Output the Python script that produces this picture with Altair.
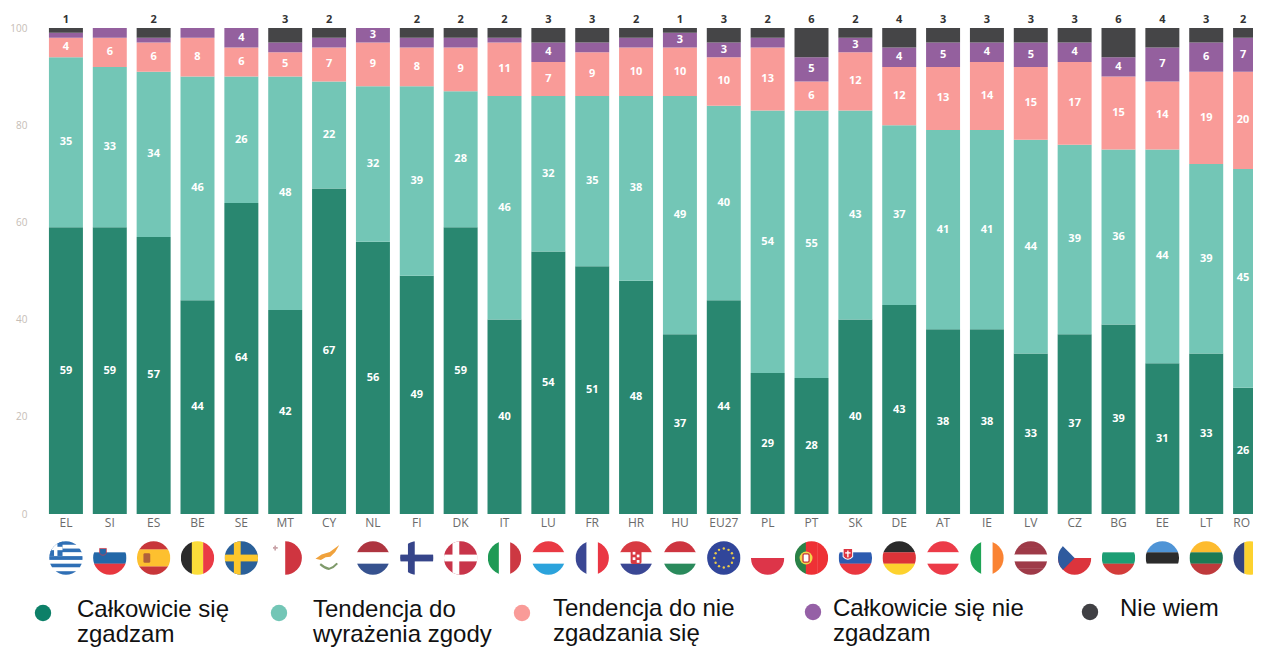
import urllib.parse
import altair as alt
import pandas as pd

countries = ["EL","SI","ES","BE","SE","MT","CY","NL","FI","DK","IT","LU","FR","HR","HU","EU27","PL","PT","SK","DE","AT","IE","LV","CZ","BG","EE","LT","RO"]
agree = [59,59,57,44,64,42,67,56,49,59,40,54,51,48,37,44,29,28,40,43,38,38,33,37,39,31,33,26]
tend_agree = [35,33,34,46,26,48,22,32,39,28,46,32,35,38,49,40,54,55,43,37,41,41,44,39,36,44,39,45]
tend_dis = [4,6,6,8,6,5,7,9,8,9,11,7,9,10,10,10,13,6,12,12,13,14,15,17,15,14,19,20]
disagree = [1,2,1,2,4,2,2,3,2,2,1,4,2,2,3,3,2,5,3,4,5,4,5,4,4,7,6,7]
dont_know = [1,0,2,0,0,3,2,0,2,2,2,3,3,2,1,3,2,6,2,4,3,3,3,3,6,4,3,2]
series_names = ["Całkowicie się zgadzam","Tendencja do wyrażenia zgody","Tendencja do nie zgadzania się","Całkowicie się nie zgadzam","Nie wiem"]
series_values = [agree,tend_agree,tend_dis,disagree,dont_know]
colors = ["#298770","#73c6b6","#f99b98","#94609e","#454547"]
legend_colors = ["#0d8068","#73c6b6","#f99b98","#9560a6","#404044"]

def hs(*c):
    h = 100/len(c)
    return "".join(f'<rect x="0" y="{i*h}" width="100" height="{h+.5}" fill="{k}"/>' for i,k in enumerate(c))
def vs(*c):
    w = 100/len(c)
    return "".join(f'<rect x="{i*w}" y="0" width="{w+.5}" height="100" fill="{k}"/>' for i,k in enumerate(c))
def cross(bg, fg, cx=36):
    return f'<rect width="100" height="100" fill="{bg}"/><rect x="{cx-10}" width="20" height="100" fill="{fg}"/><rect y="40" width="100" height="20" fill="{fg}"/>'
stars = "".join(f'<circle cx="{x}" cy="{y}" r="3.5" fill="#e9c94a"/>' for x,y in [(50,22),(64,26),(74,36),(78,50),(74,64),(64,74),(50,78),(36,74),(26,64),(22,50),(26,36),(36,26)])
W = "#ffffff"
flags = {
 "EL": hs("#2f6fb5",W,"#2f6fb5",W,"#2f6fb5",W,"#2f6fb5",W,"#2f6fb5") + '<rect width="40" height="44" fill="#2f6fb5"/><rect x="15" width="10" height="44" fill="#fff"/><rect y="17" width="40" height="10" fill="#fff"/>',
 "SI": hs(W,"#2368a8","#e8373f") + '<path d="M20 22h20v14q-10 12-20 0z" fill="#2368a8" stroke="#e8373f" stroke-width="2"/>',
 "ES": hs("#c8363a","#fdc02f","#fdc02f","#c8363a") + '<rect x="20" y="36" width="20" height="28" rx="4" fill="#b0603a"/>',
 "BE": vs("#2b2b2b","#fbdd3a","#ea3a45"),
 "SE": cross("#2a6099","#fcc72c",cx=38),
 "MT": vs(W,"#cf3540") + '<path d="M14 18h4v-5h5v5h5v5h-5v5h-5v-5h-4z" fill="#c9a3a8"/>',
 "CY": '<rect width="100" height="100" fill="#fff"/><path d="M10 52l18-12 24-8 28-20-12 20-14 14-14 2-14 8z" fill="#f0a23c"/><path d="M24 68q14 12 26 14 14-4 24-16" fill="none" stroke="#7f9a6b" stroke-width="6"/>',
 "NL": hs("#ae3540",W,"#36528f"),
 "FI": cross(W,"#36458a",cx=34),
 "DK": cross("#c8354a",W,cx=36),
 "IT": vs("#1f9a55",W,"#cd3842"),
 "LU": hs("#e93a44",W,"#2ba3dc"),
 "FR": vs("#3a4794",W,"#ea3744"),
 "HR": hs("#d83a42",W,"#3a4794") + '<rect x="34" y="26" width="32" height="42" rx="6" fill="#d83a42"/><rect x="40" y="32" width="8" height="8" fill="#fff"/><rect x="52" y="40" width="8" height="8" fill="#fff"/><rect x="40" y="48" width="8" height="8" fill="#fff"/><rect x="52" y="56" width="8" height="8" fill="#fff"/>',
 "HU": hs("#ce3540",W,"#2a8a5c"),
 "EU27": f'<rect width="100" height="100" fill="#31469a"/>{stars}',
 "PL": hs(W,"#dd3549"),
 "PT": vs("#2a8247","#ee3135","#ee3135") + '<circle cx="34" cy="50" r="19" fill="#f2d84b"/><rect x="25" y="38" width="18" height="24" rx="4" fill="#fff" stroke="#c8363a" stroke-width="4"/>',
 "SK": hs(W,"#2d5cb0","#ea3740") + '<path d="M14 22h28v24q-14 16-28 0z" fill="#dd3540" stroke="#fff" stroke-width="3"/><rect x="26" y="28" width="4" height="20" fill="#fff"/><rect x="20" y="33" width="16" height="4" fill="#fff"/>',
 "DE": hs("#2b2b2b","#dc3338","#fdd22e"),
 "AT": hs("#ec3b48",W,"#ec3b48"),
 "IE": vs("#1fa456",W,"#fa8333"),
 "LV": hs("#9e3a48","#9e3a48",W,"#9e3a48","#9e3a48"),
 "CZ": hs(W,"#dc343c") + '<path d="M0 0L50 50L0 100z" fill="#2f5a9e"/>',
 "BG": hs(W,"#1c9e74","#d33c3a"),
 "EE": hs("#4f94d6","#2b2b2b",W),
 "LT": hs("#fdbb2f","#1c7a55","#bf3a3c"),
 "RO": vs("#34447f","#fdd22e","#d83a42"),
}
def flag_uri(body):
    svg = ('<svg xmlns="http://www.w3.org/2000/svg" width="100" height="100" viewBox="0 0 100 100">'
           '<defs><clipPath id="c"><circle cx="50" cy="50" r="49"/></clipPath></defs>'
           f'<g clip-path="url(#c)">{body}</g></svg>')
    return "data:image/svg+xml;charset=utf-8," + urllib.parse.quote(svg)

rows = []
for i, c in enumerate(countries):
    base = 0
    for s, (name, vals) in enumerate(zip(series_names, series_values)):
        v = vals[i]
        rows.append({"country": c, "series": name, "order": s, "value": v, "low": base, "high": base + v, "mid": base + v/2})
        base += v
df = pd.DataFrame(rows)

x = alt.X("country:N", sort=countries, title=None,
          scale=alt.Scale(range=[0, 1228], paddingInner=0.225, paddingOuter=0.1125),
          axis=alt.Axis(ticks=False, domain=False, labelAngle=0, labelFont="Open Sans", labelFontSize=12,
                        labelColor="#6a6a6a", labelPadding=3, grid=False,
                        labelAlign=alt.expr("datum.label === 'RO' ? 'right' : 'center'")))
y_axis = alt.Axis(ticks=False, domain=False, grid=False, values=[0,20,40,60,80,100], labelFont="Open Sans",
                  labelFontSize=10, labelColor="#c6bdb6", labelPadding=17)
yscale = alt.Scale(domain=[0,100], nice=False)
color = alt.Color("series:N", sort=series_names, legend=None, scale=alt.Scale(domain=series_names, range=colors))
x_plain = alt.X("country:N", sort=countries)

bars = alt.Chart(df[df.value > 0]).mark_bar().encode(
    x=x, y=alt.Y("low:Q", scale=yscale, axis=y_axis, title=None), y2="high:Q", color=color)

inner = df[(df.value >= 3) & (df.order < 4)]
def inner_labels(frame, shift):
    return alt.Chart(frame).mark_text(font="Open Sans", fontWeight="bold", fontSize=11, color="white", dx=shift).encode(
        x=x_plain, y=alt.Y("mid:Q", scale=yscale), text="value:Q")
labels = inner_labels(inner[inner.country != "RO"], 0) + inner_labels(inner[inner.country == "RO"], -7)

top = df[(df.order == 4) & (df.value > 0)]
def top_labels_of(frame, shift):
    return alt.Chart(frame).mark_text(font="Open Sans", fontWeight="bold", fontSize=11, color="#333333", dy=-8, dx=shift).encode(
        x=x_plain, y=alt.datum(100), text="value:Q")
top_labels = top_labels_of(top[top.country != "RO"], 0) + top_labels_of(top[top.country == "RO"], -7)

flag_df = pd.DataFrame({"country": countries, "flag": [flag_uri(flags[c]) for c in countries]})
flag_layer = alt.Chart(flag_df).mark_image(width=34, height=34).encode(
    x=x_plain, y=alt.value(530), url="flag:N")

def legend_item(i, sx, sy, tx, ty, text):
    pt = alt.Chart(pd.DataFrame({"series": [series_names[i]]})).mark_point(filled=True, opacity=1, size=270, color=legend_colors[i]).encode(
        x=alt.value(sx - 44), y=alt.value(sy - 28))
    tt = alt.Chart(pd.DataFrame({"label": [text]})).mark_text(font="Liberation Sans", fontSize=24, color="#111111", align="left",
                                                             baseline="alphabetic", lineBreak="\n", lineHeight=25).encode(
        x=alt.value(tx - 44), y=alt.value(ty - 28), text="label:N")
    return pt + tt

legend = (legend_item(0, 43, 613, 77, 617, "Całkowicie się\nzgadzam")
          + legend_item(1, 279, 613, 313, 617, "Tendencja do\nwyrażenia zgody")
          + legend_item(2, 522, 613, 553, 616, "Tendencja do nie\nzgadzania się")
          + legend_item(3, 813, 612, 833, 616, "Całkowicie się nie\nzgadzam")
          + legend_item(4, 1090, 612, 1120, 616, "Nie wiem"))

chart = alt.layer(bars, labels, top_labels, flag_layer, legend).properties(
    width=1209, height=486,
    autosize=alt.AutoSizeParams(type="none"),
    padding={"left": 36, "top": 20, "right": 0, "bottom": 133},
).configure_view(stroke=None).resolve_scale(x="shared", y="shared")

chart.save("out.html", embed_options={"renderer": "svg", "actions": False})
